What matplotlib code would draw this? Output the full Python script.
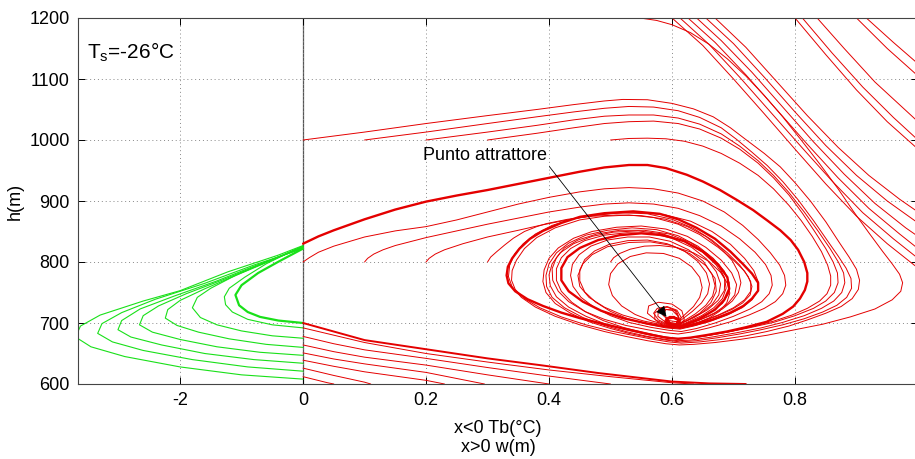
import matplotlib
matplotlib.use('Agg')
import matplotlib.pyplot as plt
import numpy as np

plt.rcParams['font.family'] = ['Liberation Sans', 'DejaVu Sans']

TB_SCALE = 0.1   # x<0 side: Tb (degC) is drawn at Tb/10

# Green trajectories, x<0 side: (Tb degC, h m)
green_thick = [
    [(0, 700), (-0.4, 704), (-0.7, 710), (-0.9, 718), (-1.04, 729), (-1.10, 746), (-1.0, 762), (-0.73, 782), (-0.41, 800), (0, 822)],
]
green_curves = [
    [(0, 692), (-0.5, 697), (-0.9, 706), (-1.15, 718), (-1.26, 730), (-1.28, 743), (-1.2, 757), (-0.95, 775), (-0.6, 797), (-0.3, 812), (0, 826)],
    [(0, 675), (-0.5, 679), (-1.0, 687), (-1.4, 697), (-1.67, 709), (-1.80, 725), (-1.72, 742), (-1.5, 757), (-1.1, 778), (-0.6, 800), (0, 826)],
    [(0, 660), (-0.6, 665), (-1.2, 674), (-1.7, 685), (-2.05, 696), (-2.24, 708), (-2.2, 722), (-2.0, 737), (-1.6, 756), (-1.0, 782), (-0.5, 803), (0, 825)],
    [(0, 647), (-0.7, 652), (-1.4, 661), (-2.0, 673), (-2.45, 685), (-2.66, 697), (-2.6, 712), (-2.35, 728), (-1.9, 748), (-1.3, 771), (-0.6, 800), (0, 824)],
    [(0, 634), (-0.8, 640), (-1.6, 650), (-2.3, 664), (-2.8, 677), (-3.01, 689), (-2.95, 704), (-2.65, 723), (-2.1, 744), (-1.4, 769), (-0.7, 797), (0, 823)],
    [(0, 621), (-0.9, 628), (-1.8, 640), (-2.6, 655), (-3.1, 669), (-3.34, 683), (-3.27, 699), (-2.95, 717), (-2.4, 739), (-1.6, 765), (-0.8, 795), (0, 822)],
    [(0, 608), (-1.0, 615), (-2.0, 628), (-2.9, 645), (-3.45, 661), (-3.70, 677), (-3.62, 695), (-3.3, 713), (-2.6, 736), (-2.0, 753), (-1.22, 784), (-0.41, 811), (0, 827)],
]

# Red trajectories leaving through the bottom edge: (w m, h m)
red_bottom_thick = [
    [(0, 700), (0.05, 686), (0.1, 672), (0.2, 657), (0.3, 642), (0.385, 631), (0.48, 618), (0.6, 604), (0.66, 601), (0.72, 600)],
]
red_bottom = [
    [(0, 692), (0.05, 680), (0.1, 668), (0.2, 650), (0.3, 636), (0.4, 623), (0.5, 612), (0.6, 602), (0.635, 600)],
    [(0, 678), (0.05, 666), (0.1, 656), (0.2, 642), (0.3, 627), (0.4, 613), (0.5, 600)],
    [(0, 664), (0.05, 653), (0.1, 644), (0.2, 631), (0.3, 615), (0.4, 600)],
    [(0, 651), (0.05, 641), (0.1, 633), (0.2, 619), (0.295, 600)],
    [(0, 639), (0.05, 629), (0.1, 620), (0.2, 606), (0.23, 600)],
    [(0, 626), (0.05, 614), (0.1, 603), (0.11, 600)],
    [(0, 612), (0.04, 602), (0.05, 600)],
]

# Thick trajectory continuing the green bundle into the attractor
red_thick = [
    [(0, 830), (0.025, 842), (0.05, 852), (0.1, 870), (0.15, 886), (0.2, 899), (0.25, 909), (0.3, 918), (0.35, 928),
     (0.4, 938), (0.45, 948), (0.49, 955), (0.53, 959), (0.56, 959), (0.59, 954), (0.624, 943), (0.65, 932),
     (0.678, 918), (0.705, 902), (0.732, 885), (0.755, 868), (0.776, 852), (0.793, 836), (0.805, 820), (0.815, 800),
     (0.82, 782), (0.82, 768), (0.816, 754), (0.808, 740), (0.797, 727), (0.78, 715), (0.754, 702), (0.72, 693),
     (0.689, 686), (0.655, 680), (0.63, 676), (0.61, 674),
     (0.59, 676), (0.57, 680), (0.548, 685), (0.52, 691), (0.49, 698), (0.45, 708), (0.42, 717), (0.39, 728),
     (0.365, 739), (0.345, 752), (0.334, 765), (0.331, 778), (0.333, 792), (0.34, 806), (0.352, 822), (0.369, 838),
     (0.39, 851), (0.42, 864), (0.45, 874), (0.49, 880), (0.537, 883), (0.58, 879), (0.61, 870), (0.64, 856),
     (0.67, 838), (0.695, 817), (0.715, 797), (0.73, 781), (0.74, 766), (0.74, 753), (0.73, 740), (0.716, 728),
     (0.695, 717), (0.667, 706), (0.64, 698), (0.613, 692),
     (0.59, 694), (0.56, 699), (0.52, 708), (0.485, 720), (0.455, 735), (0.432, 752), (0.42, 770), (0.42, 790),
     (0.43, 808), (0.45, 823), (0.48, 836), (0.515, 844), (0.55, 847), (0.585, 844), (0.62, 834), (0.65, 817),
     (0.675, 796), (0.69, 775), (0.693, 756), (0.685, 738), (0.67, 722), (0.645, 707), (0.618, 696),
     (0.6, 696), (0.59, 701), (0.592, 707), (0.602, 709), (0.612, 704), (0.612, 697), (0.607, 694)],
]

# Trajectories started at h=1000 and h=800
red_spirals = [
    [(0, 1000), (0.1, 1013), (0.2, 1027), (0.3, 1040), (0.38, 1050), (0.44, 1058), (0.49, 1064), (0.52, 1066.5),
     (0.56, 1066), (0.60, 1060), (0.635, 1051), (0.667, 1038), (0.695, 1020), (0.721, 1000), (0.75, 978),
     (0.776, 956), (0.80, 930), (0.825, 900), (0.85, 866), (0.872, 832), (0.888, 808), (0.90, 788), (0.905, 770),
     (0.903, 755), (0.893, 740), (0.875, 727), (0.85, 716), (0.82, 705), (0.79, 695), (0.754, 686), (0.72, 679),
     (0.68, 673), (0.645, 669), (0.615, 667),
     (0.595, 669), (0.57, 673), (0.54, 679), (0.5, 687), (0.46, 697), (0.42, 710), (0.385, 725), (0.36, 740),
     (0.345, 755), (0.339, 770), (0.34, 786), (0.347, 803), (0.36, 822), (0.38, 840), (0.41, 856), (0.45, 869),
     (0.49, 875), (0.53, 877), (0.57, 873), (0.61, 862), (0.645, 845), (0.675, 824), (0.70, 803), (0.718, 785),
     (0.728, 768), (0.728, 752), (0.718, 738), (0.70, 725), (0.675, 713), (0.645, 702), (0.615, 694),
     (0.59, 696), (0.555, 703), (0.52, 713), (0.49, 726), (0.465, 742), (0.45, 760), (0.447, 778), (0.455, 797),
     (0.47, 812), (0.495, 825), (0.53, 832), (0.565, 833), (0.6, 827), (0.63, 813), (0.655, 794), (0.67, 773),
     (0.672, 752), (0.663, 733), (0.645, 716), (0.622, 703), (0.608, 697),
     (0.595, 698), (0.588, 703), (0.591, 709), (0.603, 711), (0.613, 705), (0.613, 697), (0.607, 694)],
    [(0.1, 1000), (0.2, 1013), (0.3, 1027), (0.38, 1038), (0.44, 1046), (0.49, 1052), (0.53, 1055), (0.57, 1054),
     (0.61, 1048), (0.645, 1037), (0.68, 1020), (0.705, 1001), (0.73, 980), (0.755, 958), (0.78, 932), (0.805, 902),
     (0.83, 868), (0.852, 836), (0.87, 810), (0.883, 790), (0.891, 773), (0.892, 757), (0.884, 742), (0.868, 729),
     (0.845, 718), (0.815, 707), (0.78, 697), (0.745, 689), (0.71, 682), (0.675, 676), (0.64, 671), (0.613, 669),
     (0.59, 672), (0.56, 677), (0.53, 683), (0.5, 691), (0.465, 702), (0.435, 716), (0.41, 732), (0.395, 750),
     (0.39, 768), (0.392, 787), (0.4, 806), (0.415, 823), (0.44, 839), (0.47, 850), (0.51, 857), (0.55, 859),
     (0.59, 854), (0.625, 842), (0.655, 824), (0.68, 803), (0.697, 782), (0.705, 763), (0.702, 746), (0.69, 731),
     (0.67, 717), (0.645, 705), (0.617, 695),
     (0.595, 697), (0.578, 705), (0.57, 716), (0.576, 724), (0.592, 727), (0.608, 721), (0.615, 709), (0.61, 698),
     (0.606, 694)],
    [(0.2, 1000), (0.3, 1013), (0.38, 1024), (0.44, 1033), (0.49, 1039), (0.53, 1041), (0.57, 1041), (0.61, 1036),
     (0.645, 1026), (0.68, 1010), (0.71, 990), (0.74, 966), (0.765, 942), (0.79, 914), (0.815, 882), (0.838, 850),
     (0.857, 822), (0.871, 799), (0.879, 782), (0.881, 766), (0.876, 750), (0.863, 736), (0.843, 724), (0.815, 712),
     (0.78, 701), (0.745, 692), (0.705, 684), (0.665, 677), (0.63, 672), (0.61, 671),
     (0.59, 673), (0.56, 678), (0.525, 686), (0.49, 696), (0.455, 709), (0.425, 725), (0.405, 742), (0.396, 760),
     (0.395, 778), (0.4, 797), (0.412, 815), (0.432, 831), (0.46, 844), (0.495, 852), (0.535, 856), (0.575, 853),
     (0.61, 843), (0.642, 826), (0.667, 806), (0.685, 785), (0.693, 766), (0.692, 748), (0.682, 732), (0.663, 718),
     (0.64, 706), (0.615, 696),
     (0.6, 697), (0.591, 702), (0.593, 708), (0.604, 709), (0.612, 703), (0.61, 696)],
    [(0.3, 1000), (0.38, 1011), (0.44, 1020), (0.49, 1027), (0.53, 1030), (0.57, 1031), (0.61, 1027), (0.645, 1018),
     (0.68, 1003), (0.71, 985), (0.74, 962), (0.765, 938), (0.79, 910), (0.812, 880), (0.832, 850), (0.85, 822),
     (0.862, 800), (0.869, 782), (0.87, 766), (0.864, 750), (0.85, 736), (0.83, 724), (0.8, 712), (0.765, 701),
     (0.725, 692), (0.685, 684), (0.645, 677), (0.615, 674),
     (0.59, 676), (0.56, 681), (0.525, 689), (0.49, 699), (0.46, 711), (0.432, 726), (0.412, 743), (0.402, 761),
     (0.40, 779), (0.405, 797), (0.418, 815), (0.44, 830), (0.47, 842), (0.505, 849), (0.545, 851), (0.585, 846),
     (0.62, 834), (0.65, 816), (0.672, 795), (0.685, 775), (0.688, 757), (0.682, 740), (0.668, 725), (0.648, 712),
     (0.622, 700), (0.608, 696),
     (0.596, 699), (0.59, 705), (0.596, 711), (0.607, 709), (0.613, 701), (0.608, 695)],
    [(0.5, 1000), (0.53, 1002.5), (0.56, 1003), (0.59, 1002), (0.62, 998), (0.65, 990), (0.68, 978), (0.71, 962),
     (0.74, 942), (0.765, 920), (0.79, 893), (0.81, 868), (0.828, 842), (0.843, 817), (0.853, 795), (0.858, 777),
     (0.858, 762), (0.852, 748), (0.84, 736), (0.82, 724), (0.795, 713), (0.765, 703), (0.73, 694), (0.695, 686),
     (0.655, 679), (0.622, 675), (0.605, 675),
     (0.585, 678), (0.555, 684), (0.52, 693), (0.488, 704), (0.46, 718), (0.437, 734), (0.42, 752), (0.412, 770),
     (0.412, 789), (0.42, 807), (0.435, 822), (0.458, 835), (0.49, 844), (0.527, 848), (0.565, 847), (0.6, 839),
     (0.632, 824), (0.656, 805), (0.672, 784), (0.679, 764), (0.676, 746), (0.665, 730), (0.647, 716), (0.625, 704),
     (0.61, 698),
     (0.597, 699), (0.592, 704), (0.597, 710), (0.608, 708), (0.612, 700), (0.607, 695)],
    [(0, 800), (0.01, 807), (0.025, 816), (0.05, 826), (0.1, 841), (0.15, 851), (0.2, 858), (0.25, 869), (0.3, 882),
     (0.35, 895), (0.4, 906), (0.45, 915), (0.49, 920), (0.53, 922), (0.57, 920), (0.61, 913), (0.65, 900),
     (0.685, 882), (0.715, 860), (0.74, 837), (0.76, 815), (0.775, 795), (0.783, 778), (0.785, 762), (0.78, 748),
     (0.768, 735), (0.75, 724), (0.725, 713), (0.695, 702), (0.66, 692), (0.63, 685), (0.61, 682),
     (0.59, 684), (0.56, 689), (0.525, 696), (0.49, 706), (0.458, 719), (0.432, 735), (0.415, 752), (0.406, 770),
     (0.405, 789), (0.412, 807), (0.425, 823), (0.447, 836), (0.478, 846), (0.515, 852), (0.555, 852), (0.595, 846),
     (0.63, 832), (0.658, 813), (0.677, 792), (0.686, 772), (0.685, 753), (0.675, 737), (0.658, 722), (0.636, 709),
     (0.614, 699),
     (0.598, 700), (0.592, 706), (0.598, 711), (0.609, 708), (0.612, 700), (0.607, 695)],
    [(0.1, 800), (0.105, 806), (0.115, 813), (0.13, 820), (0.15, 827), (0.2, 840), (0.25, 851), (0.3, 862), (0.35, 872),
     (0.4, 882), (0.45, 890), (0.49, 895), (0.53, 897), (0.57, 895), (0.61, 888), (0.645, 876), (0.68, 859),
     (0.71, 838), (0.735, 816), (0.752, 796), (0.761, 778), (0.763, 762), (0.758, 748), (0.746, 735), (0.727, 723),
     (0.70, 711), (0.67, 700), (0.64, 691), (0.615, 686),
     (0.595, 688), (0.565, 693), (0.53, 701), (0.5, 712), (0.473, 726), (0.452, 742), (0.439, 760), (0.435, 778),
     (0.438, 796), (0.449, 812), (0.468, 826), (0.495, 836), (0.528, 841), (0.563, 841), (0.597, 834), (0.627, 820),
     (0.651, 801), (0.665, 780), (0.67, 761), (0.666, 744), (0.655, 729), (0.638, 715), (0.617, 702), (0.605, 697),
     (0.59, 701), (0.577, 711), (0.578, 722), (0.592, 726), (0.607, 720), (0.612, 707), (0.607, 697)],
    [(0.2, 800), (0.205, 806), (0.215, 813), (0.23, 820), (0.26, 830), (0.3, 841), (0.35, 852), (0.385, 860),
     (0.43, 869), (0.47, 876), (0.51, 880), (0.55, 881), (0.59, 877), (0.63, 867), (0.665, 850), (0.695, 829),
     (0.718, 806), (0.733, 786), (0.74, 768), (0.739, 752), (0.73, 738), (0.714, 725), (0.69, 713), (0.66, 702),
     (0.635, 695), (0.613, 690),
     (0.59, 692), (0.56, 698), (0.528, 707), (0.5, 719), (0.476, 734), (0.458, 751), (0.45, 769), (0.45, 787),
     (0.458, 804), (0.474, 818), (0.498, 829), (0.528, 835), (0.56, 836), (0.592, 830), (0.62, 818), (0.642, 801),
     (0.656, 782), (0.661, 764), (0.658, 748), (0.648, 733), (0.633, 719), (0.615, 705), (0.606, 699),
     (0.596, 701), (0.592, 707), (0.6, 711), (0.61, 706), (0.609, 698)],
    [(0.3, 800), (0.305, 808), (0.315, 817), (0.328, 828), (0.342, 839), (0.36, 850), (0.38, 858), (0.396, 863),
     (0.43, 870), (0.47, 875), (0.51, 877), (0.55, 876), (0.59, 870), (0.625, 858), (0.655, 842), (0.68, 822),
     (0.698, 802), (0.708, 783), (0.712, 766), (0.708, 750), (0.698, 736), (0.682, 723), (0.66, 711), (0.635, 701),
     (0.612, 694),
     (0.59, 697), (0.565, 704), (0.54, 714), (0.518, 728), (0.503, 745), (0.497, 763), (0.5, 781), (0.512, 797),
     (0.532, 809), (0.558, 815), (0.586, 814), (0.612, 806), (0.632, 792), (0.645, 775), (0.649, 758), (0.645, 742),
     (0.635, 727), (0.62, 713), (0.608, 702),
     (0.595, 704), (0.585, 713), (0.59, 722), (0.604, 721), (0.611, 709), (0.607, 699)],
    [(0.5, 800), (0.505, 807), (0.515, 814), (0.532, 821), (0.555, 826), (0.58, 827), (0.607, 824), (0.635, 815),
     (0.66, 801), (0.679, 783), (0.69, 765), (0.694, 749), (0.689, 733), (0.677, 719), (0.66, 708), (0.638, 699),
     (0.615, 693), (0.60, 692),
     (0.585, 696), (0.572, 706), (0.572, 717), (0.585, 723), (0.6, 721), (0.61, 711), (0.609, 699), (0.605, 694)],
]

# Trajectories entering through the top edge
red_top = [
    [(0.548, 1200), (0.575, 1196), (0.60, 1189), (0.63, 1176), (0.66, 1157), (0.69, 1133), (0.72, 1105), (0.75, 1073),
     (0.78, 1038), (0.81, 1000), (0.84, 961), (0.87, 920), (0.895, 883), (0.92, 848), (0.942, 818), (0.958, 797),
     (0.97, 780), (0.975, 766), (0.972, 752), (0.958, 738), (0.93, 723), (0.89, 710), (0.845, 698), (0.80, 689),
     (0.755, 680), (0.71, 673), (0.67, 668), (0.635, 665), (0.612, 664),
     (0.59, 666), (0.56, 671), (0.525, 678), (0.49, 686), (0.45, 697), (0.41, 711), (0.378, 726), (0.355, 742),
     (0.34, 759), (0.334, 776), (0.336, 795), (0.344, 813), (0.358, 830), (0.378, 846), (0.405, 860), (0.44, 871),
     (0.48, 878), (0.52, 881), (0.56, 879), (0.6, 870), (0.635, 855), (0.665, 836), (0.69, 815), (0.71, 795),
     (0.724, 776), (0.73, 760), (0.727, 746), (0.715, 733), (0.697, 722), (0.672, 711), (0.645, 701), (0.618, 694),
     (0.598, 695), (0.575, 704), (0.56, 716), (0.562, 728), (0.578, 734), (0.6, 731), (0.616, 720), (0.62, 706),
     (0.612, 696)],
    [(0.600, 1200), (0.65, 1155), (0.70, 1100), (0.75, 1043), (0.80, 985), (0.85, 928), (0.90, 875), (0.95, 830), (1.0, 790)],
    [(0.613, 1200), (0.66, 1157), (0.71, 1103), (0.76, 1046), (0.81, 989), (0.86, 933), (0.91, 881), (0.96, 838), (1.0, 806)],
    [(0.626, 1200), (0.67, 1160), (0.72, 1107), (0.77, 1050), (0.82, 993), (0.87, 938), (0.92, 888), (0.97, 846), (1.0, 822)],
    [(0.640, 1200), (0.68, 1163), (0.73, 1111), (0.78, 1054), (0.83, 997), (0.88, 944), (0.93, 896), (0.98, 856), (1.0, 842)],
    [(0.655, 1200), (0.70, 1158), (0.75, 1103), (0.80, 1046), (0.85, 991), (0.90, 942), (0.95, 900), (1.0, 864)],
    [(0.670, 1200), (0.72, 1152), (0.77, 1096), (0.82, 1040), (0.87, 988), (0.92, 942), (0.97, 903), (1.0, 882)],
    [(0.800, 1200), (0.85, 1140), (0.90, 1082), (0.95, 1030), (1.0, 985)],
    [(0.812, 1200), (0.86, 1143), (0.91, 1087), (0.96, 1037), (1.0, 1000)],
    [(0.836, 1200), (0.88, 1150), (0.93, 1095), (1.0, 1030)],
    [(0.900, 1200), (0.95, 1150), (1.0, 1105)],
    [(0.916, 1200), (0.96, 1160), (1.0, 1125)],
]

x_ticks = [-0.2, 0, 0.2, 0.4, 0.6, 0.8]
x_tick_labels = ['-2', '0', '0.2', '0.4', '0.6', '0.8']
y_ticks = [600, 700, 800, 900, 1000, 1100, 1200]

RED = '#e40000'
GREEN = '#19e019'


# Plot a list of (x, h) curves
def plot_curves(ax, curves, color, lw, x_scale=1.0):
    for c in curves:
        pts = np.array(c, dtype=float)
        ax.plot(pts[:, 0] * x_scale, pts[:, 1], color=color, lw=lw,
                solid_joinstyle='round', solid_capstyle='round')


fig = plt.figure(figsize=(9.15, 4.59), dpi=100)
ax = fig.add_axes([78 / 915, 1 - 384 / 459, 840 / 915, 366 / 459])

plot_curves(ax, green_curves, GREEN, 0.8, TB_SCALE)
plot_curves(ax, green_thick, GREEN, 1.6, TB_SCALE)
plot_curves(ax, red_bottom, RED, 0.7)
plot_curves(ax, red_bottom_thick, RED, 1.4)
plot_curves(ax, red_top, RED, 0.7)
plot_curves(ax, red_spirals, RED, 0.7)
plot_curves(ax, red_thick, RED, 1.7)

ax.axvline(0, color='#555555', lw=0.9, zorder=0)

ax.set_xlim(-0.366, 1.0)
ax.set_ylim(600, 1200)
ax.set_xticks(x_ticks)
ax.set_xticklabels(x_tick_labels)
ax.set_yticks(y_ticks)
ax.tick_params(direction='in', length=5, width=0.7, labelsize=13, top=True, right=True, pad=6)
ax.grid(True, color='#888888', linestyle=(0, (1, 3)), lw=0.7)
for s in ax.spines.values():
    s.set_color('#444444')
    s.set_linewidth(0.8)

ax.set_ylabel('h(m)', fontsize=13, labelpad=4)
ax.set_xlabel('x<0 Tb(\u00b0C)\nx>0 w(m)', fontsize=13, labelpad=8, linespacing=1.1)

ax.text(-0.352, 1143, '$\\mathregular{T_s}$=-26\u00b0C', fontsize=15, va='center', ha='left')
ax.annotate('Punto attrattore', xy=(0.591, 710), xytext=(0.397, 975), fontsize=13,
            ha='right', va='center',
            arrowprops=dict(arrowstyle='-|>', color='black', lw=0.6, mutation_scale=16,
                            shrinkA=0, shrinkB=0, relpos=(1.0, 0.0)))

fig.savefig('out.png', dpi=100)
